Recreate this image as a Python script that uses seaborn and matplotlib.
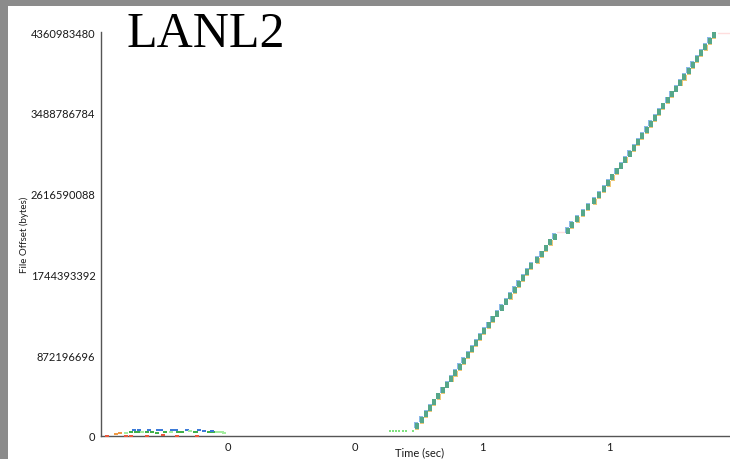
import numpy as np
import pandas as pd
import matplotlib
matplotlib.use("Agg")
import matplotlib.pyplot as plt
import matplotlib.transforms as mtransforms
from matplotlib.patches import Rectangle
from matplotlib.ticker import FixedLocator, FuncFormatter
import seaborn as sns

# ---------------------------------------------------------------- data
# Large sequential write phase: start time (ms) and file offset (bytes)
ramp_time_ms = [497.2, 505.0, 511.8, 518.1, 524.4, 531.2, 538.1, 544.9, 551.7, 558.0,
                564.9, 571.2, 578.0, 584.3, 590.6, 597.3, 603.6, 610.6, 616.9, 623.6,
                631.0, 637.8, 644.6, 651.5, 657.8, 664.6, 670.9, 677.6, 687.1, 694.0,
                700.8, 707.6, 714.5,
                735.0, 741.3, 750.1, 759.1, 767.4, 776.9, 784.7, 792.1, 798.9, 805.2,
                812.1, 818.9, 825.7, 832.6, 839.4, 846.1, 852.4, 859.4, 865.7, 872.4,
                879.2, 885.5, 892.4, 898.7, 905.5, 912.3, 918.6, 925.5, 931.8, 938.6,
                944.9, 951.7, 958.6, 965.8]
ramp_offset = [72983480, 136983480, 200983480, 264983480, 328983480, 392983480,
               456983480, 520983480, 584983480, 648983480, 712983480, 776983480,
               840983480, 904983480, 968983480, 1032983480, 1096983480, 1160983480,
               1224983480, 1288983480, 1352983480, 1416983480, 1480983480, 1544983480,
               1608983480, 1672983480, 1736983480, 1800983480, 1864983480, 1928983480,
               1992983480, 2056983480, 2120983480, 2184983480, 2248983480, 2312983480,
               2376983480, 2440983480, 2504983480, 2568983480, 2632983480, 2696983480,
               2760983480, 2824983480, 2888983480, 2952983480, 3016983480, 3080983480,
               3144983480, 3208983480, 3272983480, 3336983480, 3400983480, 3464983480,
               3528983480, 3592983480, 3656983480, 3720983480, 3784983480, 3848983480,
               3912983480, 3976983480, 4040983480, 4104983480, 4168983480, 4232983480,
               4296983480]
write_size = 64000000

# Small writes at the start of the run (time in ms, offset in MB)
red_time_ms = [9, 40, 47, 72, 97, 120, 151]
red_offset_mb = [1, 0, 2, 1, 3, 0, 2]
orange_time_ms = [24, 30]
orange_offset_mb = [22, 30]
green_time_ms = [48, 55, 62, 72, 80, 88, 100, 122, 128, 148, 150, 170, 177]
green_offset_mb = [35, 38, 36, 40, 37, 33, 38, 36, 40, 35, 38, 37, 36]
blue_time_ms = [52, 60, 76, 90, 95, 112, 118, 136, 155, 162, 175]
blue_offset_mb = [60, 64, 62, 58, 65, 60, 63, 59, 58, 56, 50]
light_time_ms = [40, 65, 110, 140, 182, 186, 190, 194]
light_offset_mb = [30, 45, 42, 48, 40, 35, 38, 34]

# Probe reads just before the sequential phase (time in ms, offset in MB)
probe_time_ms = [455, 460, 465, 470, 475, 480, 492]
probe_offset_mb = [50, 50, 50, 50, 50, 50, 46]

# Faint seek traces (time in ms, offset in MB)
seek_time_ms = [[718, 731], [972, 992]]
seek_offset_mb = [[2200, 2200], [4358, 4358]]

y_ticks = [0, 872196696, 1744393392, 2616590088, 3488786784, 4360983480]
x_ticks = [0.2, 0.4, 0.6, 0.8]

# ---------------------------------------------------------------- figure
sns.set_theme(style="white")
plt.rcParams["font.family"] = ["Lato", "DejaVu Sans"]

W, H = 730, 460
fig = plt.figure(figsize=(W / 100, H / 100), dpi=100, facecolor="#8b8b8b")
fig.patches.append(Rectangle((8 / W, 0), 1, (H - 7) / H, transform=fig.transFigure,
                             facecolor="white", edgecolor="none", zorder=-10))

ax = fig.add_axes([101 / W, (H - 436.7) / H, 629 / W, 403.4 / H])
ax.set_facecolor("none")
ax.set_zorder(1)

ramp = pd.DataFrame({
    "time": np.array(ramp_time_ms) / 1000.0,
    "offset": np.array(ramp_offset) + write_size / 2,
})

tall_block = np.array([(-0.3, -0.5), (0.3, -0.5), (0.3, 0.5), (-0.3, 0.5)])
flat_dash = np.array([(-0.5, -0.22), (0.5, -0.22), (0.5, 0.22), (-0.5, 0.22)])


def shift(coll, dx_px, dy_px):
    coll.set_offset_transform(
        ax.transData + mtransforms.ScaledTranslation(dx_px / 100, dy_px / 100,
                                                     fig.dpi_scale_trans))


# layered writes in the sequential phase
for color, dx, dy, size in [("#ecc878", 0.2, -0.8, 21),
                            ("#8bb8e8", -0.3, 0.8, 21),
                            ("#56a78a", 0.0, 0.0, 18)]:
    sns.scatterplot(data=ramp, x="time", y="offset", marker=tall_block, s=size,
                    color=color, linewidth=0, ax=ax, zorder=3)
    shift(ax.collections[-1], dx, dy)

# small early writes
for t_ms, off_mb, color in [(red_time_ms, red_offset_mb, "#e8573c"),
                            (orange_time_ms, orange_offset_mb, "#f09a45"),
                            (green_time_ms, green_offset_mb, "#3fb04a"),
                            (blue_time_ms, blue_offset_mb, "#3c7ad8"),
                            (light_time_ms, light_offset_mb, "#a4eea0")]:
    sns.scatterplot(x=np.array(t_ms) / 1000.0, y=np.array(off_mb) * 1e6,
                    marker=flat_dash, s=11, color=color, linewidth=0, ax=ax,
                    zorder=3)

sns.scatterplot(x=np.array(probe_time_ms) / 1000.0, y=np.array(probe_offset_mb) * 1e6,
                marker="s", s=2.5, color="#7fe27f", linewidth=0, ax=ax, zorder=3)

for t_ms, off_mb in zip(seek_time_ms, seek_offset_mb):
    sns.lineplot(x=np.array(t_ms) / 1000.0, y=np.array(off_mb) * 1e6,
                 color="#ffdede", linewidth=1, ax=ax, zorder=2)

# ---------------------------------------------------------------- axes
ax.set_xlim(0, 629 / 635)
ax.set_ylim(0, y_ticks[-1])
sns.despine(ax=ax)
for side in ("left", "bottom"):
    ax.spines[side].set_color("#555555")
    ax.spines[side].set_linewidth(1.0)

ax.yaxis.set_major_locator(FixedLocator(y_ticks))
ax.yaxis.set_major_formatter(FuncFormatter(lambda v, p: f"{int(round(v))}"))
ax.xaxis.set_major_locator(FixedLocator(x_ticks))
ax.xaxis.set_major_formatter(FuncFormatter(lambda v, p: f"{v:.0f}"))
ax.tick_params(direction="in", length=5, width=1, color="#444444",
               labelsize=8, labelcolor="#1a1a1a", pad=4)

ax.set_xlabel("Time (sec)", fontsize=8, color="#1a1a1a")
ax.xaxis.set_label_coords(0.507, -0.027)
ax.set_ylabel("File Offset (bytes)", fontsize=7, color="#1a1a1a")
ax.yaxis.set_label_coords(-0.114, 0.5)

fig.text(127 / W, (H - 47) / H, "LANL2", family=["Liberation Serif", "DejaVu Serif"],
         fontsize=36, color="black", ha="left", va="baseline")

fig.savefig("out.png", dpi=100, facecolor=fig.get_facecolor())
